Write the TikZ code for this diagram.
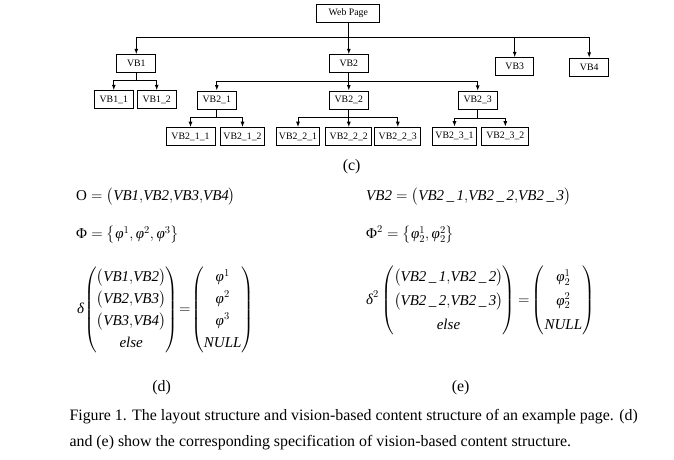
\documentclass[tikz,border=0pt]{standalone}
\usepackage{fix-cm}
\usepackage{amsmath}
\usepackage{fontspec}
\setmainfont{Liberation Serif}
\newfontfamily\boxfont{Liberation Serif}
\usetikzlibrary{arrows.meta}
\newcommand\vi[1]{\textit{#1}}
\newcommand\ph{\text{\itshape φ}}
\begin{document}
\begin{tikzpicture}[x=1pt,y=-1pt,
  box/.style={draw, line width=1pt, inner sep=0pt, minimum height=18pt, font=\boxfont\fontsize{9.8}{11}\selectfont},
  link/.style={line width=1pt},
  arr/.style={link,-{Latex[length=5.5pt,width=4pt]}},
  txt/.style={font=\fontsize{15}{18}\selectfont, inner sep=0pt},
  captxt/.style={font=\fontsize{15.9}{19}\selectfont, inner sep=0pt}]
\useasboundingbox (0,0) rectangle (674,460);
% tree
\node[box,minimum width=63pt] (web) at (348.3,13.5) {Web Page};
\node[box,minimum width=39pt] (v1) at (136.3,63.8) {VB1};
\node[box,minimum width=39pt] (v2) at (348.8,63.8) {VB2};
\node[box,minimum width=37.5pt] (v3) at (514.7,66.8) {VB3};
\node[box,minimum width=38.5pt] (v4) at (589.2,67.3) {VB4};
\node[box,minimum width=39pt] (v11) at (113.8,99.8) {VB1\_1};
\node[box,minimum width=38.7pt] (v12) at (156.7,99.8) {VB1\_2};
\node[box,minimum width=38.5pt] (v21) at (216.8,100) {VB2\_1};
\node[box,minimum width=39pt] (v22) at (348.8,100) {VB2\_2};
\node[box,minimum width=39.3pt] (v23) at (477.7,100.3) {VB2\_3};
\node[box,minimum width=49pt] (v211) at (190.5,136.7) {VB2\_1\_1};
\node[box,minimum width=43.6pt] (v212) at (242.5,136.7) {VB2\_1\_2};
\node[box,minimum width=42.6pt] (v221) at (298,136.7) {VB2\_2\_1};
\node[box,minimum width=46pt] (v222) at (348.8,136.7) {VB2\_2\_2};
\node[box,minimum width=45.7pt] (v223) at (397.8,136.7) {VB2\_2\_3};
\node[box,minimum width=44.4pt] (v231) at (454.5,136.2) {VB2\_3\_1};
\node[box,minimum width=47.3pt] (v232) at (505.3,136.2) {VB2\_3\_2};
\foreach \c in {v1,v2,v3,v4} \draw[arr] (web.south) -- ([yshift=-15pt]web.south) -| (\c.north);
\foreach \c in {v11,v12} \draw[arr] (v1.south) -- ([yshift=-7.5pt]v1.south) -| (\c.north);
\foreach \c in {v21,v22,v23} \draw[arr] (v2.south) -- ([yshift=-8.3pt]v2.south) -| (\c.north);
\foreach \c in {v211,v212} \draw[arr] (v21.south) -- ([yshift=-8.4pt]v21.south) -| (\c.north);
\foreach \c in {v221,v222,v223} \draw[arr] (v22.south) -- ([yshift=-8.4pt]v22.south) -| (\c.north);
\foreach \c in {v231,v232} \draw[arr] (v23.south) -- ([yshift=-8.3pt]v23.south) -| (\c.north);
\node[captxt] (labc) at (351.7,166.7) {(c)};
% formulas (d)
\node[txt,anchor=west] (oeq) at (76,196.7) {$\mathrm{O}=\bigl(\vi{VB1}{,}\vi{VB2}{,}\vi{VB3}{,}\vi{VB4}\bigr)$};
\node[txt,anchor=west] (phieq) at (76,235) {$\text{Φ}=\bigl\{\ph^{1},\ph^{2},\ph^{3}\bigr\}$};
\node[txt,anchor=west] (deltad) at (77,310) {$\thickmuskip=1mu\renewcommand\arraystretch{1.22}\text{\itshape δ}\!\left(\begin{array}{@{}c@{}}\bigl(\vi{VB1}{,}\vi{VB2}\bigr)\\\bigl(\vi{VB2}{,}\vi{VB3}\bigr)\\\bigl(\vi{VB3}{,}\vi{VB4}\bigr)\\\vi{else}\end{array}\right)=\left(\begin{array}{@{}c@{}}\ph^{1}\\\ph^{2}\\\ph^{3}\\\vi{NULL}\end{array}\right)$};
\node[captxt] (labd) at (161.7,388) {(d)};
% formulas (e)
\node[txt,anchor=west] (vb2eq) at (366,196.7) {$\vi{VB2}=\bigl(\vi{VB2\,\_\,1}{,}\vi{VB2\,\_\,2}{,}\vi{VB2\,\_\,3}\bigr)$};
\node[txt,anchor=west] (phi2eq) at (366,235) {$\text{Φ}^{2}=\bigl\{\ph_{2}^{1},\ph_{2}^{2}\bigr\}$};
\node[txt,anchor=west] (deltae) at (366,300.5) {$\thickmuskip=3mu\renewcommand\arraystretch{1.32}\text{\itshape δ}^{2}\left(\begin{array}{@{}c@{}}\bigl(\vi{VB2\,\_\,1}{,}\vi{VB2\,\_\,2}\bigr)\\\bigl(\vi{VB2\,\_\,2}{,}\vi{VB2\,\_\,3}\bigr)\\\vi{else}\end{array}\right)=\left(\begin{array}{@{}c@{}}\ph_{2}^{1}\\\ph_{2}^{2}\\\vi{NULL}\end{array}\right)$};
\node[captxt] (labe) at (460.7,388) {(e)};
% caption
\node[captxt,anchor=base west] (cap1) at (69.3,420) {Figure 1. The layout structure and vision-based content structure of an example page. (d)};
\node[captxt,anchor=base west] (cap2) at (69.3,446.7) {and (e) show the corresponding specification of vision-based content structure.};
\end{tikzpicture}
\end{document}
